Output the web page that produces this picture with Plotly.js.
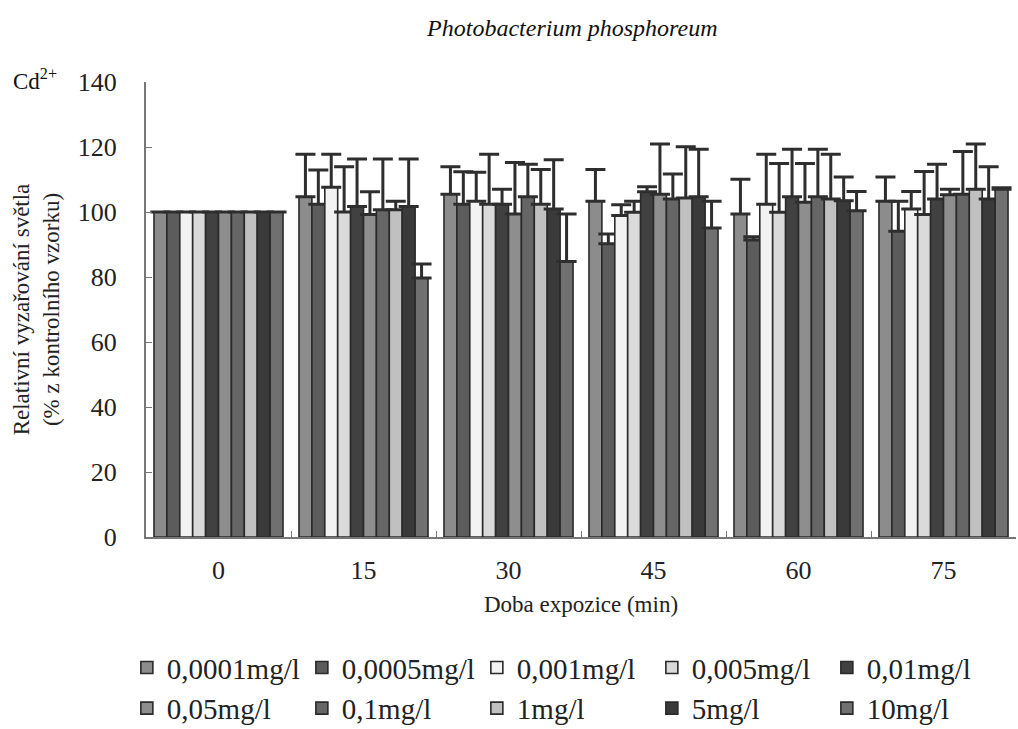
<!DOCTYPE html>
<html>
<head>
<meta charset="utf-8">
<script src="https://cdn.plot.ly/plotly-3.0.1.min.js"></script>
<style>html,body{margin:0;padding:0;background:#fff;}#chart{width:1018px;height:729px;}</style>
</head>
<body>
<div id="chart"></div>
<script>
const times = ['0', '15', '30', '45', '60', '75'];
const seriesNames = ['0,0001mg/l', '0,0005mg/l', '0,001mg/l', '0,005mg/l', '0,01mg/l',
                     '0,05mg/l', '0,1mg/l', '1mg/l', '5mg/l', '10mg/l'];
const s0001 = [100, 104.7, 105.5, 103.3, 99.4, 103.3];
const s0005 = [100, 102.4, 102.4, 90.2, 91.4, 94.1];
const s001  = [100, 107.6, 103.3, 98.9, 102.4, 100.9];
const s005  = [100, 100.0, 102.4, 99.9, 99.9, 99.2];
const s01   = [100, 101.7, 102.4, 106.2, 104.7, 104.0];
const s05   = [100, 99.2, 99.4, 105.5, 103.0, 105.3];
const s1    = [100, 100.7, 104.7, 104.0, 104.7, 105.5];
const s10   = [100, 100.7, 102.4, 104.3, 104.0, 107.0];
const s50   = [100, 101.7, 100.9, 104.7, 103.5, 104.0];
const s100  = [100, 79.7, 84.8, 95.1, 100.4, 107.0];
const e0001 = [0, 13.1, 8.4, 9.8, 10.7, 7.5];
const e0005 = [0, 10.5, 10.0, 3.0, 1.0, 9.2];
const e001  = [0, 10.2, 8.9, 3.3, 15.4, 5.4];
const e005  = [0, 13.9, 15.4, 3.4, 15.0, 13.3];
const e01   = [0, 14.6, 4.6, 1.6, 14.6, 10.7];
const e05   = [0, 7.0, 15.8, 15.4, 11.9, 1.7];
const e1    = [0, 15.6, 10.0, 7.7, 14.6, 13.1];
const e10   = [0, 2.6, 10.7, 15.8, 13.8, 13.9];
const e50   = [0, 14.6, 15.2, 14.6, 7.3, 9.9];
const e100  = [0, 4.3, 14.6, 8.2, 5.9, 0.5];
const yTicks = [0, 20, 40, 60, 80, 100, 120, 140];

const values = [s0001, s0005, s001, s005, s01, s05, s1, s10, s50, s100];
const errors = [e0001, e0005, e001, e005, e01, e05, e1, e10, e50, e100];
const colors = ['#8c8c8c', '#5c5c5c', '#f2f2f2', '#dadada', '#414141',
                '#8e8e8e', '#666666', '#c0c0c0', '#3a3a3a', '#707070'];

const traces = values.map((v, i) => ({
  type: 'bar',
  name: seriesNames[i],
  x: times,
  y: v,
  marker: {color: colors[i], line: {color: '#2a2a2a', width: 1.6}},
  error_y: {type: 'data', symmetric: false, array: errors[i],
            arrayminus: v.map(() => 0), thickness: 3, width: 10, color: '#2e2e2e'}
}));

const serif = "'Liberation Serif'";
const layout = {
  width: 1018, height: 729,
  margin: {l: 146, r: 2, t: 82, b: 192, autoexpand: false},
  paper_bgcolor: '#fff', plot_bgcolor: '#fff',
  font: {family: serif, color: '#222', size: 20},
  barmode: 'group',
  bargap: 0.11,
  bargroupgap: 0,
  title: {text: '<i>Photobacterium phosphoreum</i>', font: {size: 24, family: serif, color: '#111'},
          x: 0.49, xref: 'paper', y: 0.962, yanchor: 'middle'},
  xaxis: {
    type: 'category',
    showline: true, linecolor: '#777', linewidth: 2,
    ticks: 'inside', tickson: 'boundaries', ticklen: 6, tickcolor: '#777',
    tickfont: {size: 26, family: serif, color: '#222'},
    ticklabelstandoff: 9,
    title: {text: 'Doba expozice (min)', font: {size: 23, family: serif, color: '#222'}, standoff: 12},
    showgrid: false, zeroline: false
  },
  yaxis: {
    range: [0, 140], tickvals: yTicks, ticktext: yTicks.map(String),
    showline: true, linecolor: '#777', linewidth: 2,
    ticks: 'inside', ticklen: 6, tickcolor: '#777',
    tickfont: {size: 26, family: serif, color: '#222'},
    ticklabelstandoff: 22,
    title: {text: 'Relativní vyzařování světla<br>(% z kontrolního vzorku)', font: {size: 23, family: serif, color: '#222'}, standoff: 12},
    showgrid: false, zeroline: false
  },
  legend: {
    orientation: 'h', x: -0.022, xanchor: 'left', y: -0.231, yanchor: 'top',
    entrywidth: 130, entrywidthmode: 'pixels',
    font: {size: 29, family: serif, color: '#222'},
    itemwidth: 30, tracegroupgap: 0, traceorder: 'normal'
  },
  annotations: [{
    text: 'Cd<sup>2+</sup>', xref: 'paper', yref: 'paper', x: -0.155, y: 1.005,
    xanchor: 'left', yanchor: 'middle', showarrow: false,
    font: {size: 23, family: serif, color: '#111'}
  }]
};

Plotly.newPlot('chart', traces, layout, {displayModeBar: false, staticPlot: true});
</script>
</body>
</html>
